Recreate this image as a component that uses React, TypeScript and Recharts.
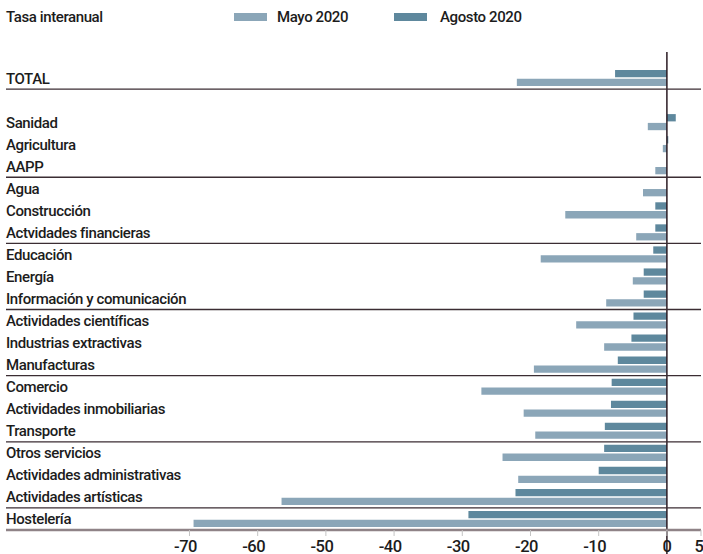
import { Bar, BarChart, ReferenceLine, XAxis, YAxis } from 'recharts';

const categories = [
  'TOTAL',
  '',
  'Sanidad',
  'Agricultura',
  'AAPP',
  'Agua',
  'Construcción',
  'Actvidades financieras',
  'Educación',
  'Energía',
  'Información y comunicación',
  'Actividades científicas',
  'Industrias extractivas',
  'Manufacturas',
  'Comercio',
  'Actividades inmobiliarias',
  'Transporte',
  'Otros servicios',
  'Actividades administrativas',
  'Actividades artísticas',
  'Hostelería',
];

const mayo2020 = [
  -22.0, null, -2.8, -0.6, -1.7, -3.5, -14.9, -4.5, -18.5, -5.0, -8.9, -13.3, -9.2, -19.5,
  -27.2, -21.0, -19.3, -24.1, -21.8, -56.5, -69.4,
];

const agosto2020 = [
  -7.6, null, 1.3, 0.2, 0, 0, -1.7, -1.7, -2.0, -3.4, -3.4, -4.9, -5.2, -7.2, -8.1, -8.2,
  -9.1, -9.2, -10.0, -22.2, -29.1,
];

const xTicks = [-70, -60, -50, -40, -30, -20, -10, 0, 5];

// rows that get a divider line below them
const groupEnds = [
  'TOTAL',
  'AAPP',
  'Actvidades financieras',
  'Información y comunicación',
  'Manufacturas',
  'Transporte',
  'Actividades artísticas',
];

const FONT = '"Roboto", "DejaVu Sans Condensed", sans-serif';
const MAYO_COLOR = '#8ba6b8';
const AGOSTO_COLOR = '#5e889d';

const WIDTH = 703;
const HEIGHT = 554;
const MARGIN = { top: 67, right: 2, bottom: 0, left: 0 };
const Y_AXIS_W = 6;
const X_AXIS_H = 24;
const ROW = (HEIGHT - MARGIN.top - MARGIN.bottom - X_AXIS_H) / categories.length;

const data = categories.map((name, i) => ({
  name,
  mayo: mayo2020[i],
  agosto: agosto2020[i],
}));

function CategoryTick(props: any) {
  const { y, payload } = props;
  const name = payload.value as string;
  return (
    <g>
      <text
        x={6}
        y={y}
        dy={5.5}
        textAnchor="start"
        fontSize={15}
        fontWeight={500}
        letterSpacing={-0.4}
        fill="#1c1c1c"
        fontFamily={FONT}
      >
        {name}
      </text>
      {groupEnds.includes(name) && (
        <line
          x1={6}
          x2={WIDTH - MARGIN.right}
          y1={y + ROW / 2}
          y2={y + ROW / 2}
          stroke="#3b2d33"
          strokeWidth={1.3}
        />
      )}
    </g>
  );
}

function ValueTick(props: any) {
  const { x, y, payload } = props;
  const v = payload.value as number;
  return (
    <text
      x={x + (v < 0 ? -4 : 0)}
      y={y}
      dy={13.5}
      textAnchor="middle"
      fontSize={16.5}
      fontWeight={500}
      letterSpacing={-0.5}
      fill="#1c1c1c"
      fontFamily={FONT}
    >
      {v}
    </text>
  );
}

function ZeroLine(props: any) {
  return <line x1={props.x1} x2={props.x2} y1={52} y2={HEIGHT} stroke="#2a1a22" strokeWidth={1.5} />;
}

function LegendSwatch({ color, label, gap }: { color: string; label: string; gap: number }) {
  return (
    <div style={{ display: 'flex', alignItems: 'center' }}>
      <div style={{ width: 33, height: 8, background: color, marginRight: gap }} />
      <span>{label}</span>
    </div>
  );
}

export default function App() {
  return (
    <div
      style={{
        position: 'absolute',
        left: 0,
        top: 0,
        width: WIDTH,
        height: HEIGHT,
        background: '#fff',
        fontFamily: FONT,
        color: '#1c1c1c',
        fontSize: 15,
        fontWeight: 500,
        letterSpacing: -0.4,
      }}
    >
      <div style={{ position: 'absolute', left: 6, top: 8 }}>Tasa interanual</div>
      <div style={{ position: 'absolute', left: 234, top: 8, display: 'flex', gap: 46 }}>
        <LegendSwatch color={MAYO_COLOR} label="Mayo 2020" gap={10} />
        <LegendSwatch color={AGOSTO_COLOR} label="Agosto 2020" gap={13} />
      </div>
      <BarChart
        width={WIDTH}
        height={HEIGHT}
        data={data}
        layout="vertical"
        margin={MARGIN}
        barSize={7.3}
        barGap={1.5}
      >
        <XAxis
          type="number"
          domain={[-96.9, 5]}
          ticks={xTicks}
          allowDataOverflow
          height={X_AXIS_H}
          axisLine={{ stroke: '#8f8387', strokeWidth: 2.5 }}
          tickLine={{ stroke: '#c4c4c4' }}
          tickSize={6}
          tick={<ValueTick />}
        />
        <YAxis
          type="category"
          dataKey="name"
          width={Y_AXIS_W}
          interval={0}
          axisLine={false}
          tickLine={false}
          tick={<CategoryTick />}
        />
        <Bar dataKey="agosto" name="Agosto 2020" fill={AGOSTO_COLOR} isAnimationActive={false} />
        <Bar dataKey="mayo" name="Mayo 2020" fill={MAYO_COLOR} isAnimationActive={false} />
        <ReferenceLine x={0} stroke="#2a1a22" shape={<ZeroLine />} />
      </BarChart>
    </div>
  );
}
